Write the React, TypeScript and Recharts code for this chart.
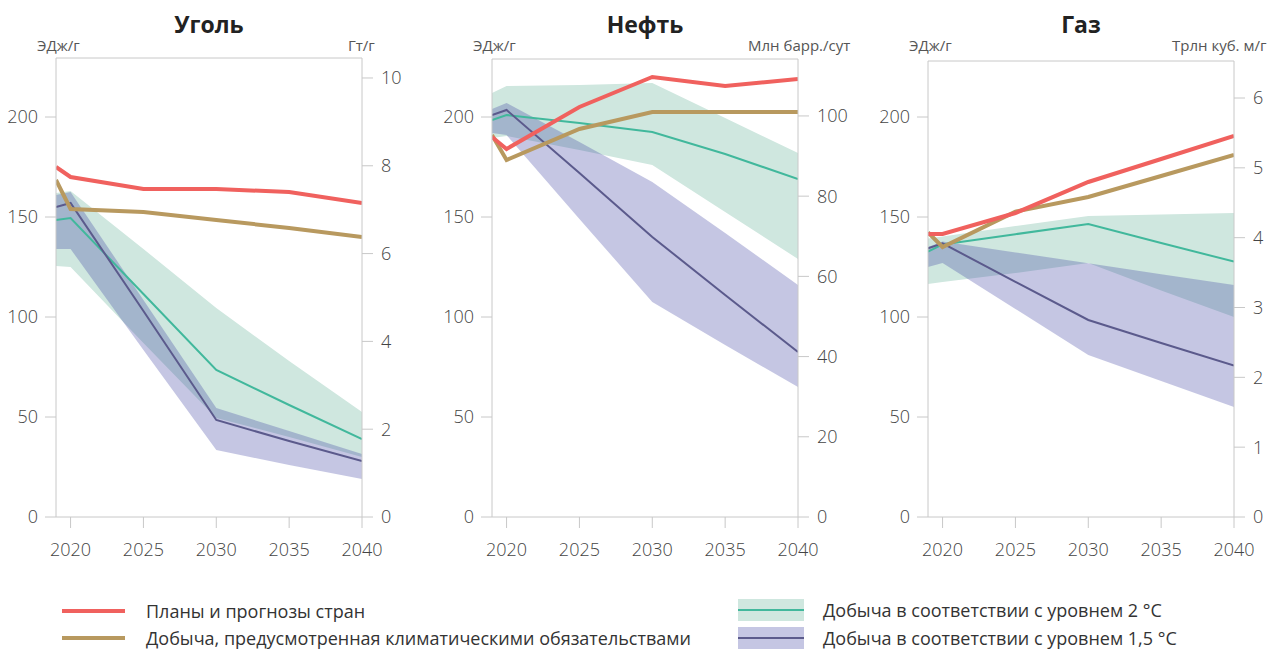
import { ComposedChart, Area, Line, XAxis, YAxis, ReferenceLine } from "recharts";

const YEARS = [2019, 2020, 2025, 2030, 2035, 2040];
const X_TICKS = [2020, 2025, 2030, 2035, 2040];
const LEFT_TICKS = [0, 50, 100, 150, 200];

// Уголь
const COAL_PLANS = [175, 170, 164, 164, 162.5, 157];
const COAL_PLEDGES = [168.5, 154, 152.5, 148.5, 144.5, 140];
const COAL_MED2 = [148.5, 149.5, 111.5, 73.5, 56, 39];
const COAL_LO2 = [125.5, 125, 87, 49.5, 40, 30];
const COAL_HI2 = [162, 163, 134, 104.5, 78, 52.5];
const COAL_MED15 = [155, 157, 103, 48.5, 38, 28];
const COAL_LO15 = [134, 134, 83.5, 33.5, 26, 19];
const COAL_HI15 = [161, 162.5, 108.5, 54.5, 43, 31.5];
const COAL_RIGHT_TICKS = [0, 2, 4, 6, 8, 10];

// Нефть
const OIL_PLANS = [190, 184, 205, 220, 215.5, 219];
const OIL_PLEDGES = [191, 178.5, 194, 202.5, 202.5, 202.5];
const OIL_MED2 = [198.5, 201, 197, 192.5, 181.5, 169];
const OIL_LO2 = [189.5, 190.5, 183.5, 176, 152.5, 129];
const OIL_HI2 = [212, 215.5, 216, 217, 199.5, 182];
const OIL_MED15 = [201, 203.5, 172, 140, 111, 82.5];
const OIL_LO15 = [192, 191, 149, 107.5, 86, 65];
const OIL_HI15 = [204, 207, 187.5, 167.5, 142, 116];
const OIL_RIGHT_TICKS = [0, 20, 40, 60, 80, 100];

// Газ
const GAS_PLANS = [141.5, 141.5, 152, 167.5, 179, 190.5];
const GAS_PLEDGES = [142.3, 135, 152.7, 160, 170.5, 181];
const GAS_MED2 = [132.7, 136.3, 141.4, 146.5, 137, 127.7];
const GAS_LO2 = [116.5, 117.5, 122, 127, 113.3, 100];
const GAS_HI2 = [139.3, 140.3, 145.5, 150.5, 151.3, 152];
const GAS_MED15 = [134.3, 136.8, 117.6, 98.5, 87, 75.7];
const GAS_LO15 = [125, 127, 104, 81, 68, 55];
const GAS_HI15 = [135, 137.7, 132.3, 126.9, 121.4, 116];
const GAS_RIGHT_TICKS = [0, 1, 2, 3, 4, 5, 6];

const SERIES_NAMES = {
  plans: "Планы и прогнозы стран",
  pledges: "Добыча, предусмотренная климатическими обязательствами",
  deg2: "Добыча в соответствии с уровнем 2 °C",
  deg15: "Добыча в соответствии с уровнем 1,5 °C",
};

const RED = "#f0615e";
const GOLD = "#b8995f";
const TEAL = "#41b89c";
const TEAL_BAND = "#cfe7df";
const PURPLE = "#5b5a8c";
const PURPLE_BAND = "#3e41a2";
const AXIS = "#c8c8c8";
const FONT = "'Open Sans', sans-serif";

function rows(plans, pledges, med2, lo2, hi2, med15, lo15, hi15) {
  return YEARS.map((year, i) => ({
    year,
    plans: plans[i],
    pledges: pledges[i],
    med2: med2[i],
    band2: [lo2[i], hi2[i]],
    med15: med15[i],
    band15: [lo15[i], hi15[i]],
  }));
}

const PANELS = [
  {
    title: "Уголь",
    unit: "Гт/г",
    unitX: 348,
    left: 0,
    top: 58,
    rightMax: 10.455,
    rightTicks: COAL_RIGHT_TICKS,
    data: rows(COAL_PLANS, COAL_PLEDGES, COAL_MED2, COAL_LO2, COAL_HI2, COAL_MED15, COAL_LO15, COAL_HI15),
  },
  {
    title: "Нефть",
    unit: "Млн барр./сут",
    unitX: 748,
    left: 436,
    top: 59,
    rightMax: 114.2,
    rightTicks: OIL_RIGHT_TICKS,
    data: rows(OIL_PLANS, OIL_PLEDGES, OIL_MED2, OIL_LO2, OIL_HI2, OIL_MED15, OIL_LO15, OIL_HI15),
  },
  {
    title: "Газ",
    unit: "Трлн куб. м/г",
    unitX: 1172,
    left: 872,
    top: 61,
    rightMax: 6.53,
    rightTicks: GAS_RIGHT_TICKS,
    data: rows(GAS_PLANS, GAS_PLEDGES, GAS_MED2, GAS_LO2, GAS_HI2, GAS_MED15, GAS_LO15, GAS_HI15),
  },
];

const BOTTOM = 517;
const CHART_W = 430;
const CHART_H = 580;

function Panel({ p }) {
  const leftMax = (BOTTOM - p.top) / 2;
  const tick = { fill: "#444", fontSize: 18, fontWeight: 300, fontFamily: FONT };
  return (
    <div style={{ position: "absolute", left: p.left, top: 0 }}>
      <ComposedChart
        width={CHART_W}
        height={CHART_H}
        data={p.data}
        margin={{ top: p.top, right: 0, bottom: CHART_H - BOTTOM - 45, left: 0 }}
      >
        <XAxis
          dataKey="year"
          type="number"
          domain={[2019, 2040]}
          ticks={X_TICKS}
          allowDataOverflow
          height={45}
          tickSize={11}
          tickMargin={15}
          tick={tick}
          axisLine={{ stroke: AXIS }}
          tickLine={{ stroke: AXIS }}
        />
        <YAxis
          yAxisId="left"
          domain={[0, leftMax]}
          ticks={LEFT_TICKS}
          allowDataOverflow
          width={56}
          tickSize={11}
          tickMargin={7}
          tick={tick}
          axisLine={{ stroke: AXIS }}
          tickLine={{ stroke: AXIS }}
        />
        <YAxis
          yAxisId="right"
          orientation="right"
          domain={[0, p.rightMax]}
          ticks={p.rightTicks}
          allowDataOverflow
          width={68}
          tickSize={11}
          tickMargin={8}
          tick={tick}
          axisLine={{ stroke: AXIS }}
          tickLine={{ stroke: AXIS }}
        />
        <ReferenceLine yAxisId="left" y={leftMax} stroke={AXIS} />
        <Area
          yAxisId="left"
          type="linear"
          dataKey="band2"
          stroke="none"
          fill={TEAL_BAND}
          fillOpacity={1}
          isAnimationActive={false}
        />
        <Area
          yAxisId="left"
          type="linear"
          dataKey="band15"
          stroke="none"
          fill={PURPLE_BAND}
          fillOpacity={0.3}
          isAnimationActive={false}
        />
        <Line yAxisId="left" type="linear" dataKey="med2" stroke={TEAL} strokeWidth={2} dot={false} isAnimationActive={false} />
        <Line yAxisId="left" type="linear" dataKey="med15" stroke={PURPLE} strokeWidth={2} dot={false} isAnimationActive={false} />
        <Line yAxisId="left" type="linear" dataKey="pledges" stroke={GOLD} strokeWidth={4} dot={false} isAnimationActive={false} />
        <Line yAxisId="left" type="linear" dataKey="plans" stroke={RED} strokeWidth={4} dot={false} isAnimationActive={false} />
      </ComposedChart>
    </div>
  );
}

function LegendItem({ x, y, kind, color, label }) {
  return (
    <div style={{ position: "absolute", left: x, top: y, display: "flex", alignItems: "center", height: 22 }}>
      <svg width={66} height={22} style={{ display: "block" }}>
        {kind === "line" ? (
          <rect x={1} y={9} width={63} height={4} fill={color} />
        ) : (
          <>
            <rect x={0} y={0} width={66} height={22} fill={kind === "band2" ? TEAL_BAND : "#c5c6e3"} />
            <rect x={0} y={10} width={66} height={2} fill={color} />
          </>
        )}
      </svg>
      <span style={{ marginLeft: 19, fontSize: 18, lineHeight: "18px", color: "#333", fontFamily: FONT, whiteSpace: "nowrap" }}>
        {label}
      </span>
    </div>
  );
}

export default function App() {
  return (
    <div
      style={{
        position: "absolute",
        left: 0,
        top: 0,
        width: 1267,
        height: 650,
        overflow: "hidden",
        background: "#fff",
        fontFamily: FONT,
      }}
    >
      {PANELS.map((p) => (
        <Panel key={p.title} p={p} />
      ))}
      <svg width={1267} height={60} style={{ position: "absolute", left: 0, top: 0, pointerEvents: "none" }}>
        {PANELS.map((p) => (
          <g key={p.title}>
            <text x={p.left + 209} y={33} textAnchor="middle" fontSize={23} fontWeight={700} fill="#222" fontFamily={FONT}>
              {p.title}
            </text>
            <text x={p.left + 37} y={51} fontSize={15} fill="#555" fontFamily={FONT}>
              ЭДж/г
            </text>
            <text x={p.unitX} y={51} fontSize={15} fill="#555" fontFamily={FONT}>
              {p.unit}
            </text>
          </g>
        ))}
      </svg>
      <LegendItem x={61} y={600} kind="line" color={RED} label={SERIES_NAMES.plans} />
      <LegendItem x={61} y={627} kind="line" color={GOLD} label={SERIES_NAMES.pledges} />
      <LegendItem x={738} y={599} kind="band2" color={TEAL} label={SERIES_NAMES.deg2} />
      <LegendItem x={738} y={627} kind="band15" color={PURPLE} label={SERIES_NAMES.deg15} />
    </div>
  );
}
